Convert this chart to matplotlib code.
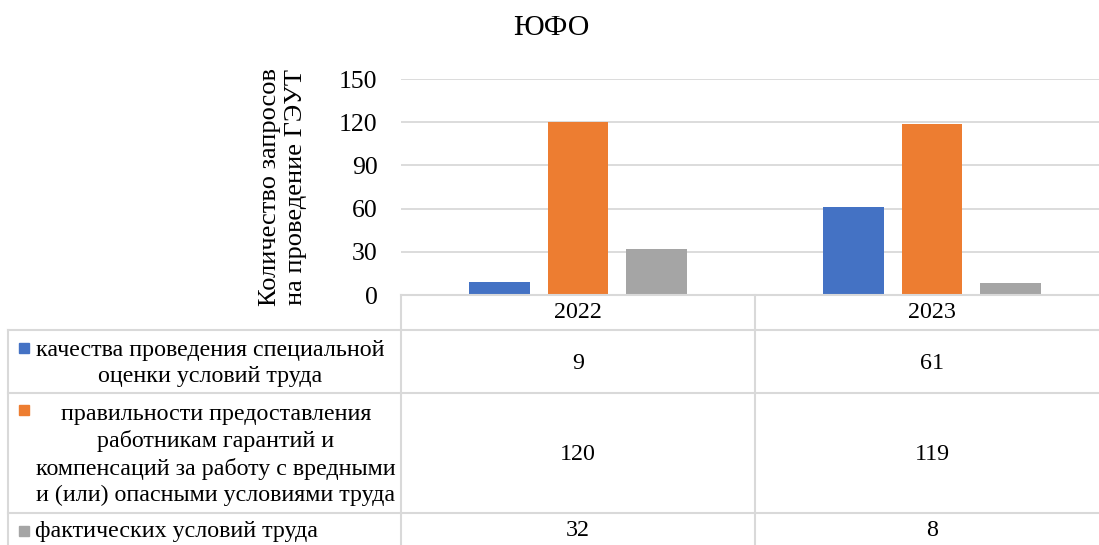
import matplotlib.pyplot as plt
import matplotlib.transforms as mtransforms
from matplotlib.lines import Line2D
from matplotlib.patches import Rectangle

years = ["2022", "2023"]
series_names = [
    "качества проведения специальной\nоценки условий труда",
    "правильности предоставления\nработникам гарантий и\nкомпенсаций за работу с вредными\nи (или) опасными условиями труда",
    "фактических условий труда",
]
values = [
    [9, 61],
    [120, 119],
    [32, 8],
]
colors = ["#4472C4", "#ED7D31", "#A5A5A5"]
yticks = [0, 30, 60, 90, 120, 150]

plt.rcParams["font.family"] = ["Liberation Serif", "DejaVu Serif"]
W, H = 1099, 545
FS = 17.3
grid_c = "#D9D9D9"

fig = plt.figure(figsize=(W / 100, H / 100), dpi=100)


def fx(px):
    return px / W


def fy(py):
    return 1 - py / H


# plot area (extends past the right edge like the source)
ax = fig.add_axes([fx(401), fy(295), fx(708), (295 - 79) / H])
ax.set_xlim(-0.5, 1.5)
ax.set_ylim(0, 150)
ax.set_yticks(yticks)
ax.set_yticklabels([str(t) for t in yticks], fontsize=18.5)
ax.tick_params(axis="y", length=0, pad=17)
ax.set_xticks([])
for s in ax.spines.values():
    s.set_visible(False)
ax.grid(axis="y", color=grid_c, linewidth=1.3)
ax.set_axisbelow(True)

width = 0.172
offs = [-0.222, 0, 0.222]
for i, vals in enumerate(values):
    ax.bar([j + offs[i] for j in range(len(years))], vals, width=width,
           color=colors[i], zorder=3)

fig.text(fx(283), fy(187), "Количество запросов\nна проведение ГЭУТ",
         rotation=90, ha="center", va="center", fontsize=19, linespacing=1.22)
fig.text(fx(551), fy(28), "ЮФО", ha="center", va="center", fontsize=21.5)

# data table
bt = mtransforms.blended_transform_factory(ax.transData, fig.transFigure)
rows_y = [295, 330, 393, 513, 560]


def hline(x0, x1, py):
    fig.add_artist(Line2D([fx(x0), fx(x1)], [fy(py), fy(py)],
                          color=grid_c, linewidth=1.5))


def vline(px, y0, y1):
    fig.add_artist(Line2D([fx(px), fx(px)], [fy(y0), fy(y1)],
                          color=grid_c, linewidth=1.5))


hline(401, 1110, 295)
for py in rows_y[1:4]:
    hline(8, 1110, py)
vline(401, 295, 560)
vline(755, 295, 560)
vline(8, 330, 560)

for j, yr in enumerate(years):
    fig.text(j, fy(312), yr, transform=bt, ha="center", va="center",
             fontsize=FS)

key_y = [348, 410, 531]
text_cx = [210, 216]
for i, name in enumerate(series_names):
    top, bot = rows_y[i + 1], rows_y[i + 2]
    mid = (top + min(bot, 551)) / 2
    fig.add_artist(Rectangle((fx(19), fy(key_y[i] + 5)), fx(10), 10 / H,
                             color=colors[i], transform=fig.transFigure))
    if i == 2:
        fig.text(fx(35), fy(531), name, ha="left", va="center", fontsize=FS)
    else:
        fig.text(fx(text_cx[i]), fy(mid + 2), name, ha="center", va="center",
                 fontsize=FS, multialignment="center", linespacing=1.33)
    for j in range(len(years)):
        fig.text(j, fy(mid + 2 if i < 2 else 531), str(values[i][j]),
                 transform=bt, ha="center", va="center", fontsize=FS)

fig.savefig("out.png", dpi=100)
